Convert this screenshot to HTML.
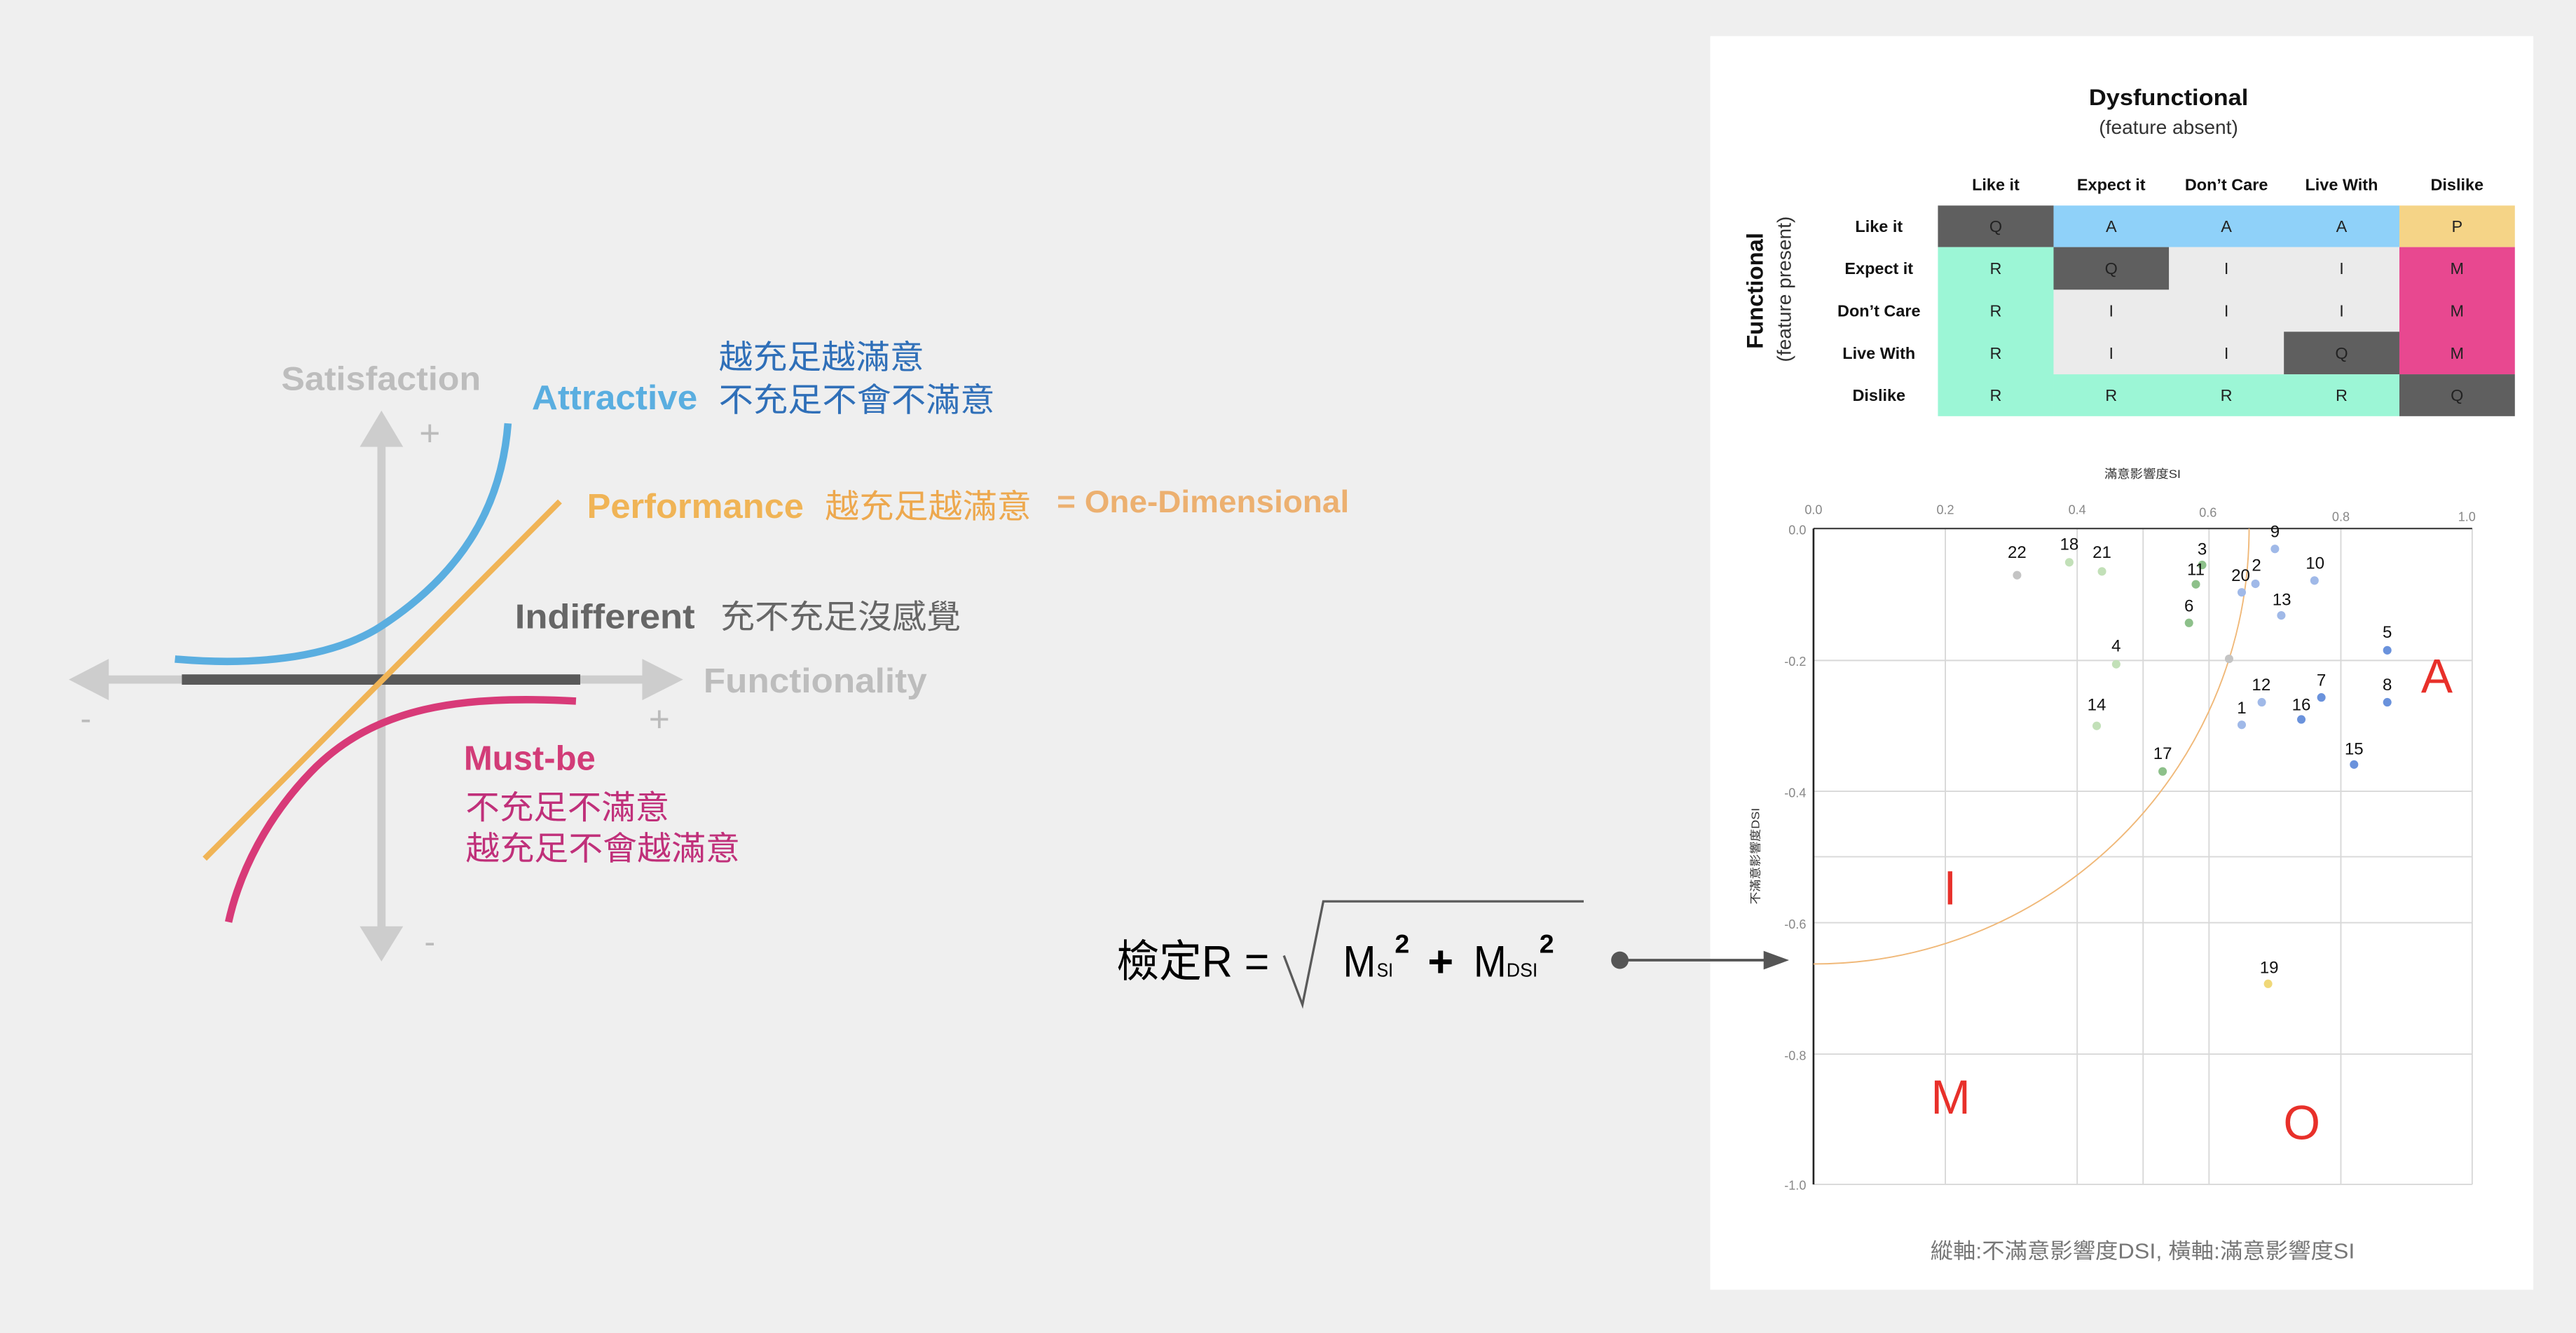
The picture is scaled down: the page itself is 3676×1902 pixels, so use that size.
<!DOCTYPE html>
<html><head><meta charset="utf-8"><style>
html,body{margin:0;padding:0;background:#efefef;}
svg{display:block;}
text{font-family:"Liberation Sans","Noto Sans CJK TC",sans-serif;}
</style></head><body>
<svg width="3676" height="1902" viewBox="0 0 1568 811.3" xmlns="http://www.w3.org/2000/svg">
<rect x="0" y="0" width="1568" height="811.3" fill="#efefef"/>
<rect x="1041" y="22" width="501" height="763" fill="#ffffff"/>

<!-- Left Kano diagram -->
<g>
<line x1="232.2" y1="268" x2="232.2" y2="566" stroke="#cdcdcd" stroke-width="5"/>
<polygon points="232.2,249.9 219,272 245.4,272" fill="#cdcdcd"/>
<polygon points="232.2,585.2 219,563.8 245.4,563.8" fill="#cdcdcd"/>
<line x1="64" y1="413.6" x2="393" y2="413.6" stroke="#cdcdcd" stroke-width="5"/>
<polygon points="41.9,413.6 66.2,401 66.2,426.2" fill="#cdcdcd"/>
<polygon points="415.8,413.6 390.9,401 390.9,426.2" fill="#cdcdcd"/>
<line x1="110.7" y1="413.6" x2="353.2" y2="413.6" stroke="#595959" stroke-width="6.3"/>
<path d="M106.5,401.1 C150,405 200,402 232.2,381 C278,351 305,312 309.2,257.7" fill="none" stroke="#5aaee0" stroke-width="4.5"/>
<line x1="124.6" y1="522.6" x2="340.8" y2="305.2" stroke="#f0b456" stroke-width="3.5"/>
<path d="M350.6,426.7 C280,423 228,430 189.3,469.8 C163,497 146,530 139.1,561.2" fill="none" stroke="#d83a78" stroke-width="4.5"/>
<text x="171.2" y="237.3" font-size="20" font-weight="bold" fill="#bdbdbd" textLength="121.5" lengthAdjust="spacingAndGlyphs">Satisfaction</text>
<text x="261.6" y="271" font-size="22" fill="#bbbbbb" text-anchor="middle">+</text>
<text x="52.2" y="444" font-size="20" fill="#bbbbbb" text-anchor="middle">-</text>
<text x="401.3" y="445" font-size="22" fill="#bbbbbb" text-anchor="middle">+</text>
<text x="261.6" y="580" font-size="20" fill="#bbbbbb" text-anchor="middle">-</text>
<text x="323.7" y="249.1" font-size="21" font-weight="bold" fill="#5aaee0" textLength="100.8" lengthAdjust="spacingAndGlyphs">Attractive</text>
<text x="437.5" y="224.3" font-size="20" fill="#2f6fb8" textLength="125" lengthAdjust="spacingAndGlyphs">越充足越滿意</text>
<text x="437.5" y="250.4" font-size="20" fill="#2f6fb8" textLength="168" lengthAdjust="spacingAndGlyphs">不充足不會不滿意</text>
<text x="357.3" y="315.2" font-size="21" font-weight="bold" fill="#f0b456" textLength="131.9" lengthAdjust="spacingAndGlyphs">Performance</text>
<text x="502.1" y="315.2" font-size="20" fill="#eda84e" textLength="125.7" lengthAdjust="spacingAndGlyphs">越充足越滿意</text>
<text x="643.3" y="311.8" font-size="19" font-weight="bold" fill="#ecb070" textLength="177.9" lengthAdjust="spacingAndGlyphs">= One-Dimensional</text>
<text x="313.4" y="382.3" font-size="21" font-weight="bold" fill="#666666" textLength="109.6" lengthAdjust="spacingAndGlyphs">Indifferent</text>
<text x="438.5" y="382.3" font-size="20" fill="#666666" textLength="146.3" lengthAdjust="spacingAndGlyphs">充不充足沒感覺</text>
<text x="428.2" y="421.5" font-size="21" font-weight="bold" fill="#bdbdbd" textLength="136" lengthAdjust="spacingAndGlyphs">Functionality</text>
<text x="282.3" y="468.5" font-size="21" font-weight="bold" fill="#d23c78" textLength="80.2" lengthAdjust="spacingAndGlyphs">Must-be</text>
<text x="283.4" y="498.5" font-size="20" fill="#c0307a" textLength="124" lengthAdjust="spacingAndGlyphs">不充足不滿意</text>
<text x="283.4" y="523.3" font-size="20" fill="#c0307a" textLength="167" lengthAdjust="spacingAndGlyphs">越充足不會越滿意</text>
</g>

<!-- Formula -->
<g>
<text x="679.6" y="594.4" font-size="27" fill="#000" textLength="93" lengthAdjust="spacingAndGlyphs">檢定R =</text>
<polyline points="781.5,581.6 792.8,611.5 805.5,548.6 964,548.6" fill="none" stroke="#5a5a5a" stroke-width="1.4"/>
<text x="817.5" y="594.4" font-size="27" fill="#000" textLength="20" lengthAdjust="spacingAndGlyphs">M</text>
<text x="838" y="594.4" font-size="12" fill="#000" textLength="10" lengthAdjust="spacingAndGlyphs">SI</text>
<text x="849" y="580" font-size="16" font-weight="bold" fill="#000">2</text>
<text x="869" y="594.4" font-size="27" font-weight="bold" fill="#000">+</text>
<text x="897" y="594.4" font-size="27" fill="#000" textLength="20" lengthAdjust="spacingAndGlyphs">M</text>
<text x="917" y="594.4" font-size="12" fill="#000" textLength="19" lengthAdjust="spacingAndGlyphs">DSI</text>
<text x="937" y="580" font-size="16" font-weight="bold" fill="#000">2</text>
<circle cx="986" cy="584.4" r="5.3" fill="#555"/>
<line x1="986" y1="584.4" x2="1075" y2="584.4" stroke="#555" stroke-width="1.6"/>
<polygon points="1089,584.4 1073.5,578.7 1073.5,590.1" fill="#555"/>
</g>

<!-- Table -->
<g font-size="10">
<text x="1320" y="64" font-size="14" font-weight="bold" text-anchor="middle" fill="#111" textLength="97" lengthAdjust="spacingAndGlyphs">Dysfunctional</text>
<text x="1320" y="81.5" font-size="12" text-anchor="middle" fill="#333">(feature absent)</text>
<g font-weight="bold" text-anchor="middle" fill="#111">
<text x="1214.8" y="115.8">Like it</text>
<text x="1285.1" y="115.8">Expect it</text>
<text x="1355.2" y="115.8">Don’t Care</text>
<text x="1425.3" y="115.8">Live With</text>
<text x="1495.6" y="115.8">Dislike</text>
<text x="1143.7" y="141.2">Like it</text>
<text x="1143.7" y="166.8">Expect it</text>
<text x="1143.7" y="192.6">Don’t Care</text>
<text x="1143.7" y="218.3">Live With</text>
<text x="1143.7" y="244">Dislike</text>
</g>
<text transform="translate(1073,177) rotate(-90)" font-size="14" font-weight="bold" text-anchor="middle" fill="#111">Functional</text>
<text transform="translate(1090,176) rotate(-90)" font-size="12" text-anchor="middle" fill="#333">(feature present)</text>
<rect x="1179.6" y="125.1" width="70.4" height="25.3" fill="#5f5f5f"/>
<rect x="1250" y="125.1" width="210.5" height="25.3" fill="#8fd1f9"/>
<rect x="1460.5" y="125.1" width="70.3" height="25.3" fill="#f5d487"/>
<rect x="1179.6" y="150.4" width="70.4" height="102.9" fill="#9cf6d6"/>
<rect x="1250" y="227.8" width="210.5" height="25.5" fill="#9cf6d6"/>
<rect x="1250" y="150.4" width="210.5" height="77.4" fill="#ebebeb"/>
<rect x="1250" y="150.4" width="70.2" height="25.9" fill="#5f5f5f"/>
<rect x="1390.2" y="201.9" width="70.3" height="25.9" fill="#5f5f5f"/>
<rect x="1460.5" y="150.4" width="70.3" height="77.4" fill="#e84890"/>
<rect x="1460.5" y="227.8" width="70.3" height="25.5" fill="#5f5f5f"/>
<g text-anchor="middle" fill="#222">
<text x="1214.8" y="141.2">Q</text><text x="1285.1" y="141.2">A</text><text x="1355.2" y="141.2">A</text><text x="1425.3" y="141.2">A</text><text x="1495.6" y="141.2">P</text>
<text x="1214.8" y="166.8">R</text><text x="1285.1" y="166.8">Q</text><text x="1355.2" y="166.8">I</text><text x="1425.3" y="166.8">I</text><text x="1495.6" y="166.8">M</text>
<text x="1214.8" y="192.6">R</text><text x="1285.1" y="192.6">I</text><text x="1355.2" y="192.6">I</text><text x="1425.3" y="192.6">I</text><text x="1495.6" y="192.6">M</text>
<text x="1214.8" y="218.3">R</text><text x="1285.1" y="218.3">I</text><text x="1355.2" y="218.3">I</text><text x="1425.3" y="218.3">Q</text><text x="1495.6" y="218.3">M</text>
<text x="1214.8" y="244">R</text><text x="1285.1" y="244">R</text><text x="1355.2" y="244">R</text><text x="1425.3" y="244">R</text><text x="1495.6" y="244">Q</text>
</g>
</g>

<!-- Chart -->
<g transform="translate(1040.96,273.04) scale(0.321,0.3264)">
<g stroke="#d8d8d8" stroke-width="2.5">
<line x1="446" y1="149" x2="446" y2="1372"/><line x1="696" y1="149" x2="696" y2="1372"/>
<line x1="821" y1="149" x2="821" y2="1372"/><line x1="946" y1="149" x2="946" y2="1372"/>
<line x1="1196" y1="149" x2="1196" y2="1372"/><line x1="1445" y1="149" x2="1445" y2="1372"/>
<line x1="196" y1="395" x2="1445" y2="395"/><line x1="196" y1="639" x2="1445" y2="639"/>
<line x1="196" y1="761" x2="1445" y2="761"/><line x1="196" y1="884" x2="1445" y2="884"/>
<line x1="196" y1="1129" x2="1445" y2="1129"/><line x1="196" y1="1372" x2="1445" y2="1372"/>
</g>
<line x1="196" y1="149" x2="1445" y2="149" stroke="#444" stroke-width="3"/>
<line x1="196" y1="149" x2="196" y2="1372" stroke="#222" stroke-width="3.5"/>
<path d="M196,961 A826,812 0 0 0 1022,149" fill="none" stroke="#f0b878" stroke-width="2.5"/>
<g font-size="24" fill="#888">
<text x="196" y="122" text-anchor="middle">0.0</text><text x="446" y="122" text-anchor="middle">0.2</text>
<text x="696" y="122" text-anchor="middle">0.4</text><text x="944" y="127" text-anchor="middle">0.6</text>
<text x="1196" y="135" text-anchor="middle">0.8</text><text x="1435" y="135" text-anchor="middle">1.0</text>
<g text-anchor="end">
<text x="182" y="160">0.0</text><text x="182" y="405">-0.2</text><text x="182" y="650">-0.4</text>
<text x="182" y="895">-0.6</text><text x="182" y="1140">-0.8</text><text x="182" y="1382">-1.0</text>
</g>
</g>
<text x="820" y="55" font-size="22" text-anchor="middle" fill="#333" textLength="145" lengthAdjust="spacingAndGlyphs">滿意影響度SI</text>
<text transform="translate(93,760) rotate(-90)" font-size="21" text-anchor="middle" fill="#333" textLength="180" lengthAdjust="spacingAndGlyphs">不滿意影響度DSI</text>
<text x="820" y="1510" font-size="40" text-anchor="middle" fill="#777" textLength="805" lengthAdjust="spacingAndGlyphs">縱軸:不滿意影響度DSI, 橫軸:滿意影響度SI</text>
<g font-size="90" fill="#e8302a" text-anchor="middle">
<text x="1378" y="455">A</text><text x="455" y="850">I</text><text x="456" y="1240">M</text><text x="1122" y="1288">O</text>
</g>
<g>
<circle cx="582" cy="236" r="8" fill="#c4c4c4"/>
<circle cx="984" cy="392" r="8" fill="#c4c4c4"/>
<circle cx="681" cy="212" r="8" fill="#c2e0b8"/>
<circle cx="743" cy="229" r="8" fill="#c2e0b8"/>
<circle cx="770" cy="402" r="8" fill="#c2e0b8"/>
<circle cx="733" cy="517" r="8" fill="#c2e0b8"/>
<circle cx="933" cy="217" r="8" fill="#8dc08a"/>
<circle cx="921" cy="253" r="8" fill="#8dc08a"/>
<circle cx="908" cy="325" r="8" fill="#8dc08a"/>
<circle cx="858" cy="602" r="8" fill="#8dc08a"/>
<circle cx="1008" cy="268" r="8" fill="#a0b9e8"/>
<circle cx="1034" cy="252" r="8" fill="#a0b9e8"/>
<circle cx="1071" cy="187" r="8" fill="#a0b9e8"/>
<circle cx="1146" cy="246" r="8" fill="#a0b9e8"/>
<circle cx="1083" cy="311" r="8" fill="#a0b9e8"/>
<circle cx="1046" cy="473" r="8" fill="#a0b9e8"/>
<circle cx="1008" cy="515" r="8" fill="#a0b9e8"/>
<circle cx="1121" cy="505" r="8" fill="#6a92dc"/>
<circle cx="1159" cy="464" r="8" fill="#6a92dc"/>
<circle cx="1284" cy="376" r="8" fill="#6a92dc"/>
<circle cx="1284" cy="473" r="8" fill="#6a92dc"/>
<circle cx="1221" cy="589" r="8" fill="#6a92dc"/>
<circle cx="1058" cy="998" r="8" fill="#f0d878"/>
</g>
<g font-size="32" fill="#111" text-anchor="middle">
<text x="582" y="204">22</text><text x="681" y="189">18</text><text x="743" y="204">21</text>
<text x="933" y="198">3</text><text x="921" y="236">11</text><text x="908" y="304">6</text>
<text x="770" y="378">4</text><text x="733" y="488">14</text><text x="858" y="579">17</text>
<text x="1006" y="247">20</text><text x="1036" y="228">2</text><text x="1071" y="165">9</text>
<text x="1147" y="224">10</text><text x="1084" y="292">13</text><text x="1045" y="451">12</text>
<text x="1008" y="494">1</text><text x="1121" y="488">16</text><text x="1159" y="442">7</text>
<text x="1284" y="353">5</text><text x="1284" y="451">8</text><text x="1221" y="570">15</text>
<text x="1060" y="978">19</text>
</g>
</g>
</svg>
</body></html>
